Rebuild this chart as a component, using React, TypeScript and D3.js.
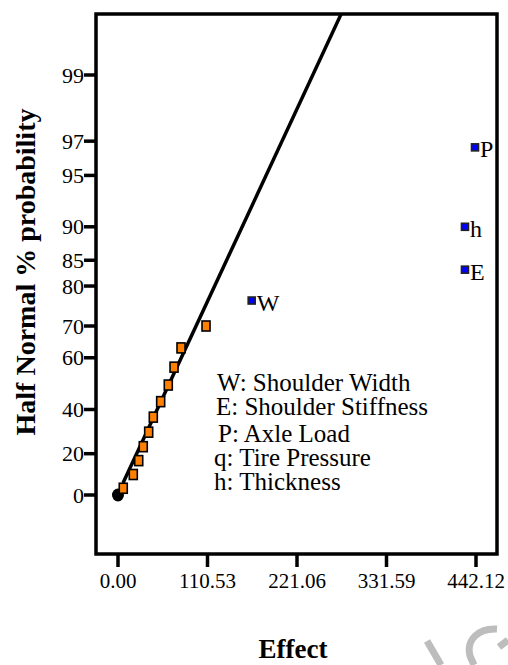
import React from 'react';
import * as d3 from 'd3';

// half normal plot: effects vs half-normal % probability
const yTicks = [0, 20, 40, 60, 70, 80, 85, 90, 95, 97, 99];
const xTicks = [0, 110.53, 221.06, 331.59, 442.12];

// effects that fall on the line (orange)
const errorEffects = [6.5, 18.9, 25.6, 31.2, 37.9, 43.6, 52.7, 62.1, 69.2, 77.8, 108.7];
const errorProbs = [3.3, 10.0, 16.7, 23.3, 30.0, 36.7, 43.3, 50.0, 56.7, 63.3, 70.0];

// significant factors (blue)
const factorLabels = ['W', 'E', 'h', 'P'];
const factorEffects = [165.1, 428.5, 428.5, 440.9];
const factorProbs = [76.7, 83.3, 90.0, 96.7];

// fitted line end points
const fitEffects = [6.2, 275.4];
const fitProbs = [5.9, 99.68];

const legendLines = [
  'W: Shoulder Width',
  'E: Shoulder Stiffness',
  'P: Axle Load',
  'q: Tire Pressure',
  'h: Thickness',
];

// inverse normal cdf (Acklam)
function invNorm(p: number) {
  const a = [-39.69683028665376, 220.9460984245205, -275.9285104469687, 138.357751867269, -30.66479806614716, 2.506628277459239];
  const b = [-54.47609879822406, 161.5858368580409, -155.6989798598866, 66.80131188771972, -13.28068155288572];
  const c = [-0.007784894002430293, -0.3223964580411365, -2.400758277161838, -2.549732539343734, 4.374664141464968, 2.938163982698783];
  const d = [0.007784695709041462, 0.3224671290700398, 2.445134137142996, 3.754408661907416];
  const pl = 0.02425;
  if (p < pl) {
    const q = Math.sqrt(-2 * Math.log(p));
    return (((((c[0] * q + c[1]) * q + c[2]) * q + c[3]) * q + c[4]) * q + c[5]) / ((((d[0] * q + d[1]) * q + d[2]) * q + d[3]) * q + 1);
  }
  if (p > 1 - pl) {
    const q = Math.sqrt(-2 * Math.log(1 - p));
    return -(((((c[0] * q + c[1]) * q + c[2]) * q + c[3]) * q + c[4]) * q + c[5]) / ((((d[0] * q + d[1]) * q + d[2]) * q + d[3]) * q + 1);
  }
  const q = p - 0.5;
  const r = q * q;
  return ((((((a[0] * r + a[1]) * r + a[2]) * r + a[3]) * r + a[4]) * r + a[5]) * q) / (((((b[0] * r + b[1]) * r + b[2]) * r + b[3]) * r + b[4]) * r + 1);
}

// percent -> half normal quantile
const halfZ = (pct: number) => (pct <= 0 ? 0 : invNorm(0.5 + pct / 200));

const W = 508;
const H = 665;
const frame = { left: 96, top: 14, right: 497, bottom: 554 };
const serif = { fontFamily: "'Liberation Serif', 'Times New Roman', Times, serif" };

export default function App() {
  const x = d3.scaleLinear().domain([0, 442.12]).range([118, 476]);
  const z = d3.scaleLinear().domain([0, halfZ(99)]).range([495, 75]);
  const y = (pct: number) => z(halfZ(pct));

  const line = d3
    .line<number>()
    .x(d => x(fitEffects[d]))
    .y(d => y(fitProbs[d]));

  return (
    <svg width={W} height={H} style={{ position: 'absolute', left: 0, top: 0, background: '#fff' }}>
      <defs>
        <clipPath id="plot">
          <rect x={frame.left} y={frame.top} width={frame.right - frame.left} height={frame.bottom - frame.top} />
        </clipPath>
      </defs>

      {/* watermark bits */}
      <g stroke="#bdbdbd" strokeWidth={7} fill="none">
        <path d="M427,641 L441,665" />
        <path d="M497,629 C478,628 466,640 470,656 L474,665" />
        <path d="M499,647 L508,640" />
      </g>

      {/* fitted line */}
      <path d={line([0, 1]) || ''} stroke="#000" strokeWidth={3.5} fill="none" clipPath="url(#plot)" />

      {/* frame */}
      <rect
        x={frame.left}
        y={frame.top}
        width={frame.right - frame.left}
        height={frame.bottom - frame.top}
        fill="none"
        stroke="#000"
        strokeWidth={3.5}
      />

      {/* y axis */}
      {yTicks.map(t => (
        <g key={'y' + t}>
          <line x1={84} x2={frame.left} y1={y(t)} y2={y(t)} stroke="#000" strokeWidth={3.5} />
          <text x={84} y={y(t)} dy="0.35em" textAnchor="end" fontSize={22} style={serif}>
            {t}
          </text>
        </g>
      ))}

      {/* x axis */}
      {xTicks.map(t => (
        <g key={'x' + t}>
          <line x1={x(t)} x2={x(t)} y1={frame.bottom} y2={567} stroke="#000" strokeWidth={3.5} />
          <text x={x(t)} y={588} textAnchor="middle" fontSize={21} style={serif}>
            {t.toFixed(2)}
          </text>
        </g>
      ))}

      {/* origin dot */}
      <ellipse cx={x(0)} cy={y(0)} rx={6} ry={6.5} fill="#000" />

      {/* orange points */}
      {errorEffects.map((e, i) => (
        <rect
          key={'o' + i}
          x={x(e) - 4}
          y={y(errorProbs[i]) - 5}
          width={8}
          height={10}
          fill="#ff8000"
          stroke="#000"
          strokeWidth={1.6}
        />
      ))}

      {/* blue points + labels */}
      {factorEffects.map((e, i) => (
        <g key={'b' + i}>
          <rect
            x={x(e) - 3.5}
            y={y(factorProbs[i]) - 3.5}
            width={7}
            height={7}
            fill="#0000ff"
            stroke="#222"
            strokeWidth={1.6}
          />
          <text x={x(e) + 5} y={y(factorProbs[i]) + 10} fontSize={24} style={serif}>
            {factorLabels[i]}
          </text>
        </g>
      ))}

      {/* legend text */}
      <g fontSize={25} style={serif}>
        <text x={217} y={391}>{legendLines[0]}</text>
        <text x={216} y={415}>{legendLines[1]}</text>
        <text x={218} y={442}>{legendLines[2]}</text>
        <text x={214} y={466}>{legendLines[3]}</text>
        <text x={214} y={490}>{legendLines[4]}</text>
      </g>

      {/* axis titles */}
      <text x={293} y={658} textAnchor="middle" fontSize={27} fontWeight="bold" style={serif}>
        Effect
      </text>
      <text
        transform={`translate(35,272) rotate(-90)`}
        textAnchor="middle"
        fontSize={28}
        fontWeight="bold"
        style={serif}
      >
        Half Normal % probability
      </text>
    </svg>
  );
}
